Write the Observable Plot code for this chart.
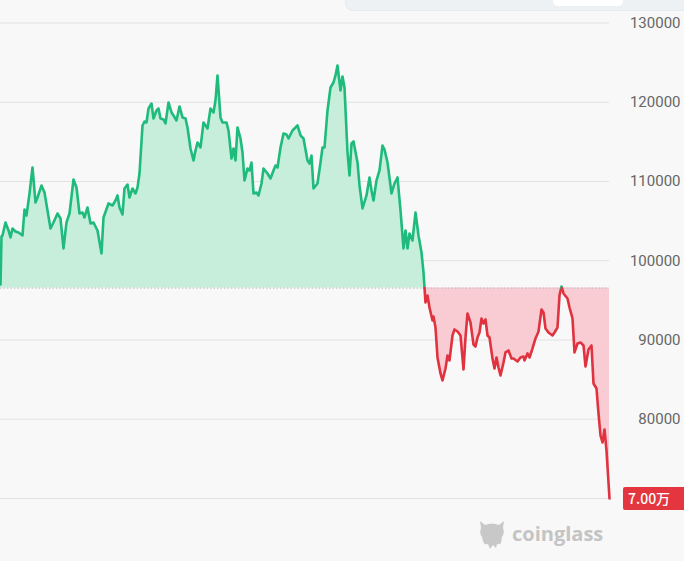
<!DOCTYPE html>
<html>
<head>
<meta charset="utf-8">
<script src="https://cdn.jsdelivr.net/npm/d3@7"></script>
<script src="https://cdn.jsdelivr.net/npm/@observablehq/plot@0.6"></script>
<style>
  html, body { margin: 0; padding: 0; background: #f8f8f8; }
  #wrap { position: relative; width: 684px; height: 561px; overflow: hidden; background: #f8f8f8; font-family: Roboto, "Noto Sans", sans-serif; }
  #wrap svg.plot, #wrap > svg { position: absolute; left: 0; top: 0; }
  .topbar { position: absolute; left: 345px; top: -20px; width: 360px; height: 29px; background: #eef1f4; border-radius: 8px; border: 1px solid #e6e9ed; }
  .topbar .inner { position: absolute; left: 207px; top: 0; width: 70px; height: 25px; background: #ffffff; border-radius: 5px; }
  .last { position: absolute; left: 623px; width: 70px; height: 23px; background: #e4363f; border-radius: 2px; color: #fff; font: 500 14px "Noto Sans CJK SC", Roboto, sans-serif; line-height: 23px; padding-left: 5px; box-sizing: border-box; }
  .wm { position: absolute; left: 477px; top: 517px; display: flex; align-items: center; gap: 5px; color: #c4c4c4; font: 700 20px "Open Sans", Roboto, sans-serif; }
</style>
</head>
<body>
<div id="wrap"></div>
<script>
// Price series (day index, price in USD)
const days = [
  0,1,2,5,8,10,12,15,18,22,24,26,29,32,35,37,41,44,47,50,53,57,60,63,66,69,73,76,79,82,84,87,90,93,97,101,
  103,108,112,115,117,119,122,124,127,129,132,135,137,139,142,144,146,148,151,153,156,158,160,163,165,168,171,173,176,179,182,185,187,190,193,195,197,200,
  203,207,210,213,215,217,220,222,226,228,231,233,235,237,240,242,244,247,249,251,253,256,258,261,263,267,270,273,275,277,280,283,286,288,292,294,297,300,303,
  307,309,311,313,317,320,322,324,327,330,333,335,337,340,342,344,347,349,351,353,357,359,362,366,369,371,373,376,379,382,384,387,391,394,397,400,403,405,407,409,412,415,418,421,423,
  425,427,429,432,433,435,437,440,442,445,447,449,452,454,457,460,463,465,467,470,473,475,477,479,481,483,485,487,489,492,494,496,498,500,503,505,508,511,513,517,520,523,524,527,529,532,535,538,541,543,545,548,552,554,557,559,561,563,567,569,572,574,577,580,583,585,588,591,593,596,598,600,602,604,606,609
];
const prices = [
  97000,103060,103190,104830,103820,102940,104070,103690,103570,103190,106470,105710,108490,111770,107350,107980,109500,108610,106340,104070,104830,105960,105330,101550,104830,105960,110250,109240,105960,106090,105460,106720,104700,104830,103820,100920,
  105460,107230,106970,107600,108240,106720,105840,109120,109620,107980,109120,108490,109240,111010,117070,117570,117450,119210,119840,117950,118960,119210,117950,117830,117320,119970,118710,118330,117700,119470,118080,117950,116820,114170,112650,113910,114920,114290,
  117450,116690,119210,118710,120220,123380,118080,117450,117450,116440,112900,114170,112650,116820,115430,113660,110130,111640,111390,112400,108490,108610,108240,109750,111640,111010,110380,111390,112020,111770,114290,116060,115930,115430,116440,116690,117070,115810,115430,
  112650,112270,113280,109120,109750,112400,114290,114290,118960,121860,122490,123380,124640,121480,123250,121860,113660,110760,114800,115050,112400,109500,106600,108240,110510,108870,107600,110130,111390,114540,114040,112400,108490,109750,110510,106340,101550,103820,101550,103440,102560,106090,103190,101040,98520,
  94730,95620,94100,92460,92970,91580,87790,85780,84890,86410,88050,87420,90570,91330,91070,90570,86280,90320,93350,92210,89430,89180,90320,90950,92720,92080,92590,90570,90320,87670,86410,87790,86530,85520,87160,88430,88680,87670,87670,87290,87790,87920,87420,88300,87790,88930,90190,91070,93850,93470,91450,90950,90570,90950,91580,95620,96750,95870,95240,94100,92720,88430,89560,89690,89310,86660,88800,89310,84510,83880,80730,77950,77070,78710,76060,70000
];
const baseline = 96550;
const gridTicks = [70000, 80000, 90000, 100000, 110000, 120000, 130000];
const labelTicks = ["80000", "90000", "100000", "110000", "120000", "130000"];

const GREEN = "#1fbb7c", GREEN_FILL = "#c6eedb";
const RED = "#e0323f", RED_FILL = "#f8ccd2";

const pts = days.map((d, i) => ({ d, p: prices[i] }));
const aug = [];
pts.forEach((b, i) => {
  if (i > 0) {
    const a = pts[i - 1];
    if ((a.p - baseline) * (b.p - baseline) < 0) {
      const t = (baseline - a.p) / (b.p - a.p);
      aug.push({ d: a.d + t * (b.d - a.d), p: baseline, cross: true });
    }
  }
  aug.push(b);
});
const lineData = [];
let seg = 0, up = null;
for (const q of aug) {
  if (q.cross) {
    lineData.push({ ...q, seg, up });
    seg++; up = !up;
    lineData.push({ ...q, seg, up });
  } else {
    if (up === null) up = q.p >= baseline;
    lineData.push({ ...q, seg, up });
  }
}

const W = 684, H = 561;
const chart = Plot.plot({
  width: W, height: H,
  marginLeft: 0, marginRight: W - 609, marginTop: 22.5, marginBottom: H - 498,
  style: { background: "transparent", overflow: "visible" },
  x: { domain: [0, 609], axis: null },
  y: { domain: [70000, 130000], axis: null },
  marks: [
    Plot.ruleY(gridTicks, { stroke: "#e2e2e2", strokeWidth: 1 }),
    Plot.areaY(aug, { x: "d", y1: baseline, y2: d => Math.max(d.p, baseline), fill: GREEN_FILL }),
    Plot.areaY(aug, { x: "d", y1: baseline, y2: d => Math.min(d.p, baseline), fill: RED_FILL }),
    Plot.ruleY([baseline], { stroke: "#b9b9b9", strokeDasharray: "1.5,2", strokeWidth: 1 }),
    Plot.line(lineData, { x: "d", y: "p", z: "seg", stroke: d => d.up ? GREEN : RED, strokeWidth: 2.6, strokeLinejoin: "round" }),
    Plot.text(labelTicks, { y: d => +d, text: d => d, frameAnchor: "right", dx: 71, textAnchor: "end", fill: "#666", fontSize: 15, fontFamily: "Roboto" })
  ]
});
const wrap = document.getElementById("wrap");
wrap.appendChild(chart);

const topBar = document.createElement("div");
topBar.className = "topbar";
topBar.innerHTML = '<div class="inner"></div>';
wrap.appendChild(topBar);

const lastPrice = prices[prices.length - 1];
const lab = document.createElement("div");
lab.className = "last";
lab.style.top = (chart.scale("y").apply(lastPrice) - 11.5) + "px";
lab.textContent = (lastPrice / 10000).toFixed(2) + "万";
wrap.appendChild(lab);

const wm = document.createElement("div");
wm.className = "wm";
wm.innerHTML = '<svg width="30" height="33" viewBox="0 0 30 33"><path d="M3 4 L8 8 Q15 5 22 8 L27 4 L26 11 Q28 16 25 20 L24 26 Q22 28 20 27 L19 31 L16 28 L13 32 L11 27 Q7 28 6 24 L5 20 Q2 16 4 11 Z" fill="#c8c8c8"/></svg><span>coinglass</span>';
wrap.appendChild(wm);
</script>
</body>
</html>
